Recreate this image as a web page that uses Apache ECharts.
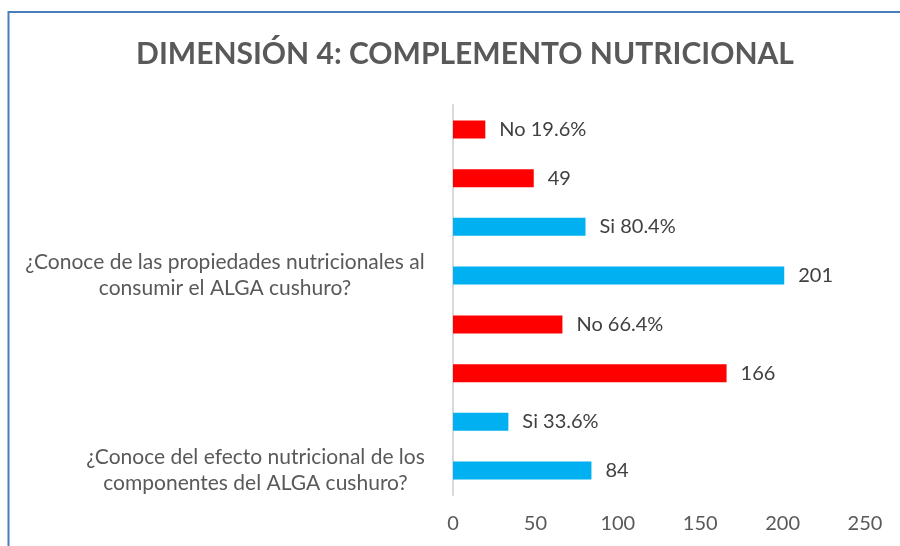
<!DOCTYPE html>
<html>
<head>
<meta charset="utf-8">
<script src="https://cdn.jsdelivr.net/npm/echarts@6/dist/echarts.min.js"></script>
<style>
  html, body { margin: 0; padding: 0; background: #fff; }
  #main { width: 900px; height: 546px; }
</style>
</head>
<body>
<div id="main"></div>
<script>
var categories = [
    '¿Conoce del efecto nutricional de los\ncomponentes del ALGA cushuro?',
    '¿Conoce de las propiedades nutricionales al\nconsumir el ALGA cushuro?'
];
var siCount = [84, 201];
var siPct = [33.6, 80.4];
var noCount = [166, 49];
var noPct = [66.4, 19.6];
var xTicks = [0, 50, 100, 150, 200, 250];

var FONT = 'Lato';
var LABEL_SIZE = 20;
var CAT_SIZE = 21;

// ancho de cada bloque de texto, para centrar las lineas dentro del bloque
var ctx = document.createElement('canvas').getContext('2d');
ctx.font = CAT_SIZE + 'px ' + FONT;
var rich = {};
var catLabels = categories.map(function (c, i) {
    var lines = c.split('\n');
    var w = 0;
    lines.forEach(function (l) { w = Math.max(w, ctx.measureText(l).width); });
    rich['c' + i] = {
        width: Math.ceil(w) + 2,
        align: 'center',
        fontFamily: FONT,
        fontSize: CAT_SIZE,
        lineHeight: 26,
        color: '#595959'
    };
    return lines.map(function (l) { return '{c' + i + '|' + l + '}'; }).join('\n');
});

var chart = echarts.init(document.getElementById('main'));

var barLabel = function (fmt) {
    return {
        show: true,
        position: 'right',
        distance: 14,
        fontFamily: FONT,
        fontSize: LABEL_SIZE,
        color: '#404040',
        formatter: fmt
    };
};

// en barras horizontales la primera serie queda arriba
var option = {
    animation: false,
    backgroundColor: '#fff',
    title: {
        text: 'DIMENSIÓN 4: COMPLEMENTO NUTRICIONAL',
        left: 460,
        textAlign: 'center',
        top: 34,
        textStyle: {
            fontFamily: FONT,
            fontWeight: 'bold',
            fontSize: 30,
            color: '#595959'
        }
    },
    graphic: [{
        type: 'rect',
        shape: { x: 8.5, y: 12, width: 1000, height: 700 },
        style: { fill: 'none', stroke: '#4a7ebb', lineWidth: 2 },
        silent: true
    }],
    grid: {
        left: 453,
        right: 35,
        top: 105,
        bottom: 51
    },
    xAxis: {
        type: 'value',
        min: 0,
        max: 250,
        interval: 50,
        splitLine: { show: false },
        axisLine: { show: false },
        axisTick: { show: false },
        axisLabel: {
            margin: 19,
            fontFamily: FONT,
            fontSize: LABEL_SIZE,
            color: '#595959',
            formatter: function (v) { return xTicks.indexOf(v) >= 0 ? String(v) : ''; }
        }
    },
    yAxis: {
        type: 'category',
        data: categories,
        axisLine: { show: true, lineStyle: { color: '#d9d9d9', width: 2 } },
        axisTick: { show: false },
        axisLabel: {
            margin: 27,
            align: 'right',
            padding: [146, 0, 0, 0],
            formatter: function (v, i) { return catLabels[i]; },
            rich: rich
        }
    },
    series: [{
        name: 'No %',
        type: 'bar',
        data: noPct,
        barWidth: 18,
        barGap: '170%',
        itemStyle: { color: '#ff0000' },
        label: barLabel('No {c}%')
    }, {
        name: 'No',
        type: 'bar',
        data: noCount,
        barWidth: 18,
        barGap: '170%',
        itemStyle: { color: '#ff0000' },
        label: barLabel('{c}')
    }, {
        name: 'Si %',
        type: 'bar',
        data: siPct,
        barWidth: 18,
        barGap: '170%',
        itemStyle: { color: '#00b0f0' },
        label: barLabel('Si {c}%')
    }, {
        name: 'Si',
        type: 'bar',
        data: siCount,
        barWidth: 18,
        barGap: '170%',
        itemStyle: { color: '#00b0f0' },
        label: barLabel('{c}')
    }]
};
chart.setOption(option);
</script>
</body>
</html>
